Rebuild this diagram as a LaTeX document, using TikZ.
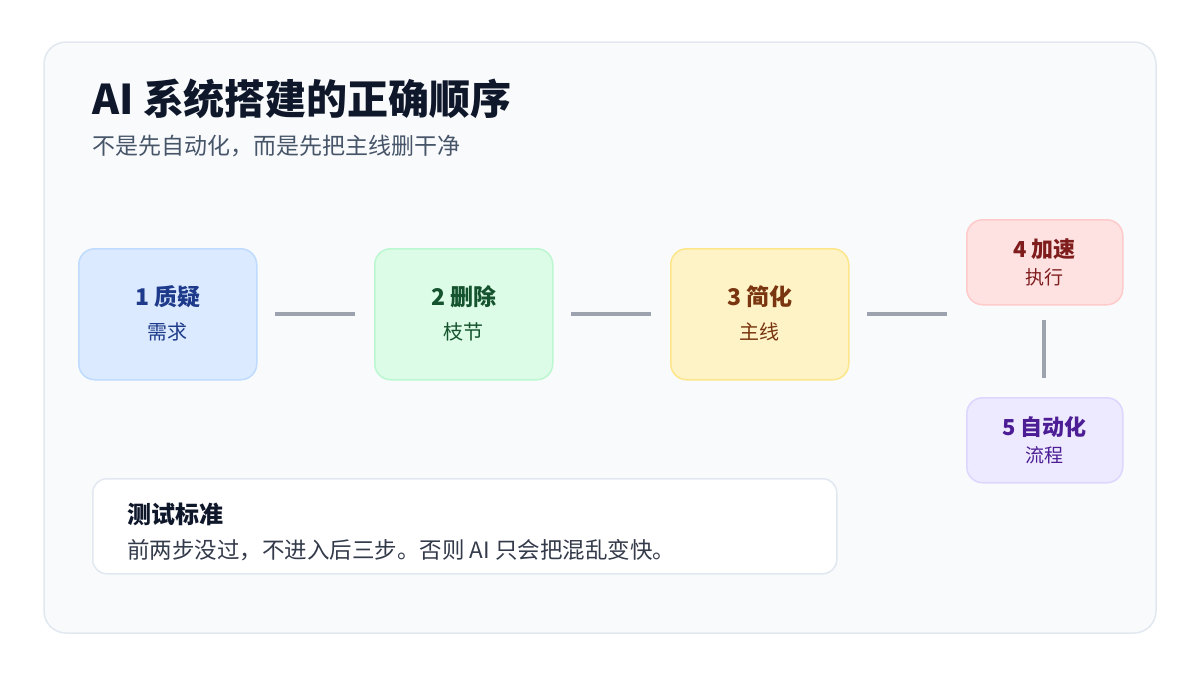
\documentclass[tikz,border=0pt]{standalone}
\usepackage{fontspec}
\setmainfont{Noto Sans CJK SC}
\begin{document}
\begin{tikzpicture}[x=1pt,y=-1pt]
\definecolor{panel}{HTML}{F8FAFC}\definecolor{pborder}{HTML}{E2E8F0}
\definecolor{ttl}{HTML}{0F172A}\definecolor{sub}{HTML}{475569}
\definecolor{conn}{HTML}{9CA3AF}
\definecolor{f1}{HTML}{DBEAFE}\definecolor{b1}{HTML}{BFDBFE}\definecolor{t1}{HTML}{1E3A8A}
\definecolor{f2}{HTML}{DCFCE7}\definecolor{b2}{HTML}{BBF7D0}\definecolor{t2}{HTML}{14532D}
\definecolor{f3}{HTML}{FEF3C7}\definecolor{b3}{HTML}{FDE68A}\definecolor{t3}{HTML}{78350F}
\definecolor{f4}{HTML}{FEE2E2}\definecolor{b4}{HTML}{FECACA}\definecolor{t4}{HTML}{7F1D1D}
\definecolor{f5}{HTML}{EDE9FE}\definecolor{b5}{HTML}{DDD6FE}\definecolor{t5}{HTML}{4C1D95}
\tikzset{stepbox/.style={draw,line width=1.5pt,rounded corners=16pt,inner sep=0pt},
  link/.style={draw=conn,line width=4pt}}
\useasboundingbox (0,0) rectangle (1200,675);
\fill[white] (0,0) rectangle (1200,675);
\draw[fill=panel,draw=pborder,line width=1.5pt,rounded corners=22pt] (44,42) rectangle (1156,633);
\node[anchor=base west,inner sep=0,text=ttl,font=\fontsize{41}{46}\selectfont\bfseries] (title) at (92,114) {AI 系统搭建的正确顺序};
\node[anchor=base west,inner sep=0,text=sub,font=\fontsize{23}{26}\selectfont] (subt) at (92,154) {不是先自动化，而是先把主线删干净};
\foreach \i/\x/\y/\w/\h in {1/78/248/178/131, 2/374/248/178/131, 3/670/248/178/131, 4/966/219/156/85, 5/966/397/156/85}{
  \node[stepbox,fill=f\i,draw=b\i,minimum width=\w pt,minimum height=\h pt,anchor=north west] (s\i) at (\x,\y) {};
}
\foreach \i/\a/\b in {1/1 质疑/需求, 2/2 删除/枝节, 3/3 简化/主线}{
  \node[text=t\i,font=\fontsize{23}{26}\selectfont\bfseries] at ([yshift=18pt]s\i.center) {\a};
  \node[text=t\i,font=\fontsize{20}{24}\selectfont] at ([yshift=-18pt]s\i.center) {\b};
}
\foreach \i/\a/\b in {4/4 加速/执行, 5/5 自动化/流程}{
  \node[text=t\i,font=\fontsize{22}{26}\selectfont\bfseries] at ([yshift=13pt]s\i.center) {\a};
  \node[text=t\i,font=\fontsize{19}{22}\selectfont] at ([yshift=-15pt]s\i.center) {\b};
}
\coordinate (c1a) at (275,314);\coordinate (c1b) at (355,314);
\coordinate (c2a) at (571,314);\coordinate (c2b) at (651,314);
\coordinate (c3a) at (867,314);\coordinate (c3b) at (947,314);
\coordinate (c4a) at (1044,320);\coordinate (c4b) at (1044,378);
\draw[link] (c1a)--(c1b); \draw[link] (c2a)--(c2b); \draw[link] (c3a)--(c3b); \draw[link] (c4a)--(c4b);
\node[draw=pborder,fill=white,line width=1.5pt,rounded corners=14pt,minimum width=744pt,minimum height=95pt,anchor=north west] (test) at (92,478) {};
\node[anchor=base west,inner sep=0,text=ttl,font=\fontsize{24}{28}\selectfont\bfseries] at (127,523) {测试标准};
\node[anchor=base west,inner sep=0,text=ttl!85,font=\fontsize{22.5}{26}\selectfont] at (127,558) {前两步没过，不进入后三步。否则 AI 只会把混乱变快。};
\end{tikzpicture}
\end{document}
